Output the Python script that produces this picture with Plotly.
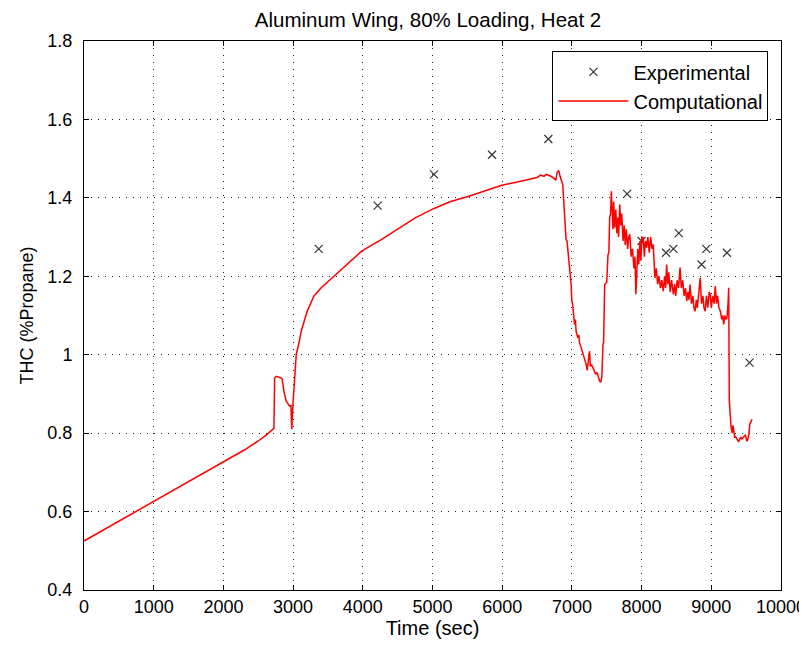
import plotly.graph_objects as go

# Experimental data (markers)
exp_time = [3367, 4213, 5022, 5854, 6662, 7792, 7999, 8350, 8456, 8533, 8860, 8928, 9225, 9548]
exp_thc = [1.27, 1.38, 1.46, 1.51, 1.55, 1.41, 1.29, 1.26, 1.27, 1.31, 1.23, 1.27, 1.26, 0.98]

# Computational data (line)
comp_time = [0, 200, 500, 1000, 1500, 2000, 2300, 2500, 2600, 2725, 2735, 2760, 2840, 2870, 2900, 2950,
             2970, 2980, 2990, 3000, 3010, 3030, 3045, 3090, 3117, 3200, 3300, 3400, 3526, 3700, 3983,
             4271, 4500, 4752, 5022, 5250, 5522, 5750, 5993, 6200, 6388, 6500, 6550, 6600, 6628, 6700,
             6748, 6770, 6790, 6811, 6830, 6869, 6880, 6893, 6916, 6930, 6955, 6975, 6989, 6999, 7010,
             7038, 7050, 7060, 7085, 7100, 7110, 7130, 7157, 7180, 7205, 7220, 7240, 7254, 7265, 7280,
             7302, 7320, 7340, 7360, 7380, 7398, 7415, 7430, 7446, 7455, 7470, 7500, 7518, 7530, 7542,
             7555, 7566, 7575, 7590, 7600, 7614, 7630, 7645, 7660, 7670, 7687, 7700, 7715, 7734, 7750,
             7765, 7780, 7800, 7815, 7831, 7850, 7870, 7890, 7905, 7918, 7930, 7945, 7960, 7976, 7990,
             8005, 8023, 8040, 8055, 8071, 8090, 8110, 8130, 8150, 8167, 8180, 8191, 8210, 8230, 8250,
             8270, 8290, 8311, 8330, 8345, 8359, 8375, 8390, 8410, 8430, 8456, 8475, 8490, 8510, 8530,
             8552, 8570, 8590, 8610, 8630, 8648, 8665, 8680, 8696, 8715, 8735, 8750, 8768, 8785, 8800,
             8820, 8841, 8860, 8880, 8895, 8913, 8930, 8950, 8970, 8985, 9000, 9020, 9040, 9057, 9075,
             9090, 9110, 9130, 9150, 9165, 9177, 9195, 9210, 9225, 9240, 9250, 9258, 9270, 9283, 9300,
             9310, 9322, 9335, 9346, 9365, 9380, 9394, 9420, 9440, 9466, 9490, 9510, 9524, 9540, 9553,
             9570, 9586]
comp_thc = [0.525, 0.545, 0.575, 0.627, 0.676, 0.725, 0.757, 0.780, 0.793, 0.812, 0.941, 0.945, 0.940,
            0.905, 0.882, 0.869, 0.870, 0.810, 0.870, 0.880, 0.905, 0.960, 1.000, 1.035, 1.060, 1.110,
            1.150, 1.170, 1.190, 1.220, 1.264, 1.294, 1.320, 1.349, 1.373, 1.390, 1.404, 1.418, 1.432,
            1.440, 1.447, 1.452, 1.458, 1.455, 1.460, 1.455, 1.449, 1.445, 1.466, 1.470, 1.455, 1.434,
            1.400, 1.358, 1.294, 1.290, 1.243, 1.200, 1.179, 1.137, 1.130, 1.077, 1.090, 1.060, 1.043,
            1.050, 1.030, 1.020, 1.001, 0.990, 0.975, 0.960, 0.990, 1.009, 0.970, 0.975, 0.967, 0.960,
            0.950, 0.955, 0.940, 0.933, 0.930, 0.945, 1.027, 1.030, 1.179, 1.185, 1.256, 1.260, 1.349,
            1.360, 1.417, 1.380, 1.320, 1.390, 1.324, 1.370, 1.310, 1.350, 1.300, 1.383, 1.330, 1.360,
            1.290, 1.330, 1.280, 1.320, 1.270, 1.300, 1.307, 1.250, 1.270, 1.220, 1.250, 1.154, 1.220,
            1.270, 1.230, 1.290, 1.240, 1.300, 1.298, 1.250, 1.290, 1.273, 1.300, 1.260, 1.300, 1.270,
            1.281, 1.240, 1.196, 1.220, 1.180, 1.200, 1.170, 1.190, 1.162, 1.200, 1.170, 1.230, 1.180,
            1.210, 1.160, 1.190, 1.154, 1.180, 1.150, 1.190, 1.170, 1.222, 1.170, 1.190, 1.150, 1.170,
            1.137, 1.160, 1.140, 1.179, 1.130, 1.150, 1.120, 1.111, 1.140, 1.120, 1.160, 1.196, 1.130,
            1.150, 1.120, 1.111, 1.150, 1.120, 1.160, 1.154, 1.120, 1.150, 1.130, 1.175, 1.130, 1.150,
            1.120, 1.111, 1.090, 1.100, 1.077, 1.100, 1.090, 1.094, 1.130, 1.171, 0.884, 0.840, 0.816,
            0.800, 0.820, 0.808, 0.790, 0.791, 0.785, 0.780, 0.778, 0.790, 0.785, 0.791, 0.795, 0.780,
            0.783, 0.800, 0.823, 0.830, 0.835]

x_ticks = [0, 1000, 2000, 3000, 4000, 5000, 6000, 7000, 8000, 9000, 10000]
x_tick_text = ["0", "1000", "2000", "3000", "4000", "5000", "6000", "7000", "8000", "9000", "10000"]
y_ticks = [0.4, 0.6, 0.8, 1.0, 1.2, 1.4, 1.6, 1.8]
y_tick_text = ["0.4", "0.6", "0.8", "1", "1.2", "1.4", "1.6", "1.8"]

FONT = "Liberation Sans, Arial, sans-serif"

fig = go.Figure()
fig.add_trace(go.Scatter(
    x=exp_time, y=exp_thc, mode="markers", name="Experimental",
    marker=dict(symbol="x-thin", size=8, color="#333333",
                line=dict(color="#333333", width=1.2)),
))
fig.add_trace(go.Scatter(
    x=comp_time, y=comp_thc, mode="lines", name="Computational",
    line=dict(color="#ff0000", width=1.5),
))

axis_common = dict(
    showgrid=True, gridcolor="#222222", griddash="1px,6px", gridwidth=1.3,
    showline=True, linecolor="black", linewidth=1, mirror="ticks",
    ticks="inside", ticklen=5, tickcolor="black", zeroline=False,
    automargin=False, ticklabeloverflow="allow",
    tickfont=dict(family=FONT, size=18, color="black"),
)

# page body has an 8px margin; figure sized to fill the rest of the window
fig.update_layout(
    width=799, height=639,
    paper_bgcolor="white", plot_bgcolor="white",
    margin=dict(l=76, r=26, t=33, b=57),
    title=dict(text="Aluminum Wing, 80% Loading, Heat 2", x=0.5257, xanchor="center",
               y=0.992, yanchor="top", pad=dict(t=0, b=0),
               font=dict(family=FONT, size=20.5, color="black")),
    xaxis=dict(range=[0, 10000], tickvals=x_ticks, ticktext=x_tick_text,
               title=dict(text="Time (sec)", font=dict(family=FONT, size=20, color="black"),
                          standoff=2),
               **axis_common),
    yaxis=dict(range=[0.4, 1.8], tickvals=y_ticks, ticktext=y_tick_text,
               ticklabelstandoff=7,
               title=dict(text="THC (%Propane)", font=dict(family=FONT, size=18, color="black"),
                          standoff=9),
               **axis_common),
    legend=dict(x=0.982, y=0.981, xanchor="right", yanchor="top",
                bordercolor="black", borderwidth=1, bgcolor="white",
                font=dict(family=FONT, size=20, color="black"),
                itemwidth=70, tracegroupgap=0),
    showlegend=True,
)

fig.write_html("out.html")
